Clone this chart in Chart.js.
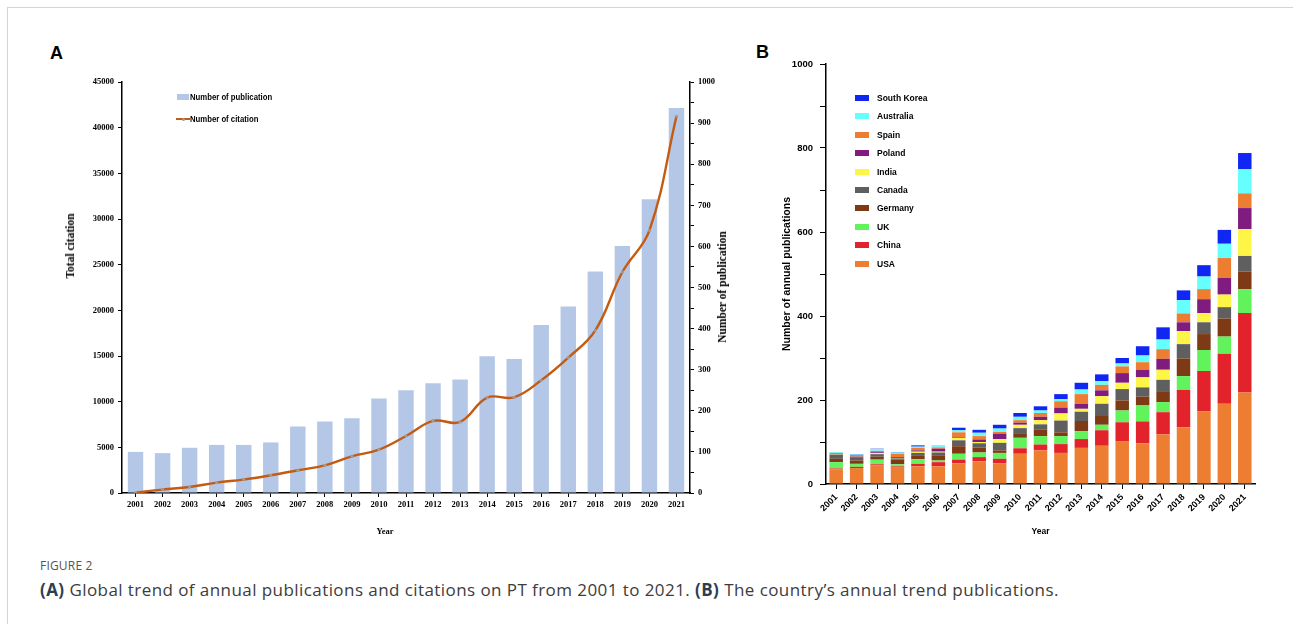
<!DOCTYPE html>
<html>
<head>
<meta charset="utf-8">
<script src="https://cdn.jsdelivr.net/npm/chart.js@4.4.1/dist/chart.umd.min.js"></script>
<style>
  html, body { margin: 0; padding: 0; background: #fff; }
  body { width: 1293px; height: 624px; position: relative; overflow: hidden; font-family: "Liberation Sans", Arial, sans-serif; }
  .frame { position: absolute; left: 7px; top: 7px; width: 1300px; height: 640px; border-top: 1px solid #d4d4d4; border-left: 1px solid #d4d4d4; }
  canvas { position: absolute; }
  .abs { position: absolute; white-space: nowrap; }
  .panel { font-family: "Liberation Sans", Arial, sans-serif; font-weight: bold; font-size: 18px; color: #000; }
  .legA { font-family: "Liberation Sans", sans-serif; font-weight: bold; font-size: 9px; color: #000; line-height: 10px; transform: scaleX(0.86); transform-origin: left center; }
  .legB { font-family: "Liberation Sans", Arial, sans-serif; font-weight: bold; font-size: 8.5px; color: #000; line-height: 10px; }
  .sw { position: absolute; }
  .ytitle { font-family: "Liberation Serif", "Times New Roman", serif; font-weight: bold; font-size: 11.5px; color: #000; transform: translate(-50%, -50%) rotate(-90deg); }
  .xtitle { font-family: "Liberation Serif", "Times New Roman", serif; font-weight: bold; font-size: 8.5px; color: #000; transform: translate(-50%, -50%); }
  .figlab { font-family: "Open Sans", sans-serif; font-size: 12px; color: #555; letter-spacing: 0.2px; }
  .cap { font-family: "Open Sans", sans-serif; font-size: 17px; letter-spacing: 0.43px; color: #3c3c3c; }
  .cap b { color: #2c3e52; }
</style>
</head>
<body>
<div class="frame"></div>
<div class="abs panel" style="left:50px; top:43px;">A</div>
<div class="abs panel" style="left:756px; top:42px;">B</div>

<canvas id="chartA" width="690" height="470" style="left:60px; top:70px;"></canvas>
<canvas id="chartB" width="540" height="520" style="left:740px; top:40px;"></canvas>

<div class="abs ytitle" style="left:70px; top:246px;">Total citation</div>
<div class="abs ytitle" style="left:722px; top:287px;">Number of publication</div>
<div class="abs xtitle" style="left:385px; top:531px;">Year</div>
<div id="legendA"></div>
<div id="legendB"></div>

<div class="abs figlab" style="left:40px; top:557px;">FIGURE 2</div>
<div class="abs cap" style="left:40px; top:578px;"><b>(A)</b> Global trend of annual publications and citations on PT from 2001 to 2021. <b>(B)</b> The country’s annual trend publications.</div>

<script>
// ---------- Panel A data ----------
const years = ["2001","2002","2003","2004","2005","2006","2007","2008","2009","2010","2011","2012","2013","2014","2015","2016","2017","2018","2019","2020","2021"];
const publications = [100, 97, 110, 117, 117, 123, 162, 174, 182, 230, 250, 267, 276, 333, 326, 409, 454, 539, 601, 715, 937];
const citations = [30, 370, 660, 1140, 1470, 1940, 2490, 3030, 4020, 4750, 6240, 7890, 7780, 10440, 10480, 12340, 14820, 17810, 24200, 28760, 41250];
const citationTicksMax = 45000;
const publicationTicksMax = 1000;

// ---------- Panel B data (stack order bottom -> top) ----------
const countries = ["USA","China","UK","Germany","Canada","India","Poland","Spain","Australia","South Korea"];
const usa       = [35, 38, 44, 39, 42, 42, 49, 54, 49, 72, 80, 74, 86, 91, 101, 97, 118, 135, 173, 191, 218];
const china     = [2, 3, 3, 3, 6, 10, 9, 10, 11, 13, 14, 21, 21, 37, 46, 52, 53, 89, 96, 119, 189];
const uk        = [15, 7, 11, 5, 11, 4, 14, 11, 14, 25, 20, 19, 19, 13, 28, 38, 24, 33, 50, 41, 57];
const germany   = [8, 8, 7, 11, 8, 11, 18, 12, 6, 11, 15, 9, 24, 23, 24, 21, 26, 42, 38, 43, 42];
const canada    = [10, 8, 6, 3, 7, 8, 14, 10, 18, 12, 13, 28, 22, 27, 27, 22, 27, 34, 28, 27, 37];
const india     = [1, 1, 3, 1, 3, 2, 6, 3, 9, 8, 10, 17, 7, 18, 15, 24, 24, 31, 22, 30, 64];
const poland    = [1, 2, 2, 2, 3, 7, 2, 6, 13, 5, 8, 14, 12, 14, 23, 18, 26, 21, 33, 40, 50];
const spain     = [2, 2, 3, 8, 6, 3, 11, 8, 4, 6, 9, 15, 23, 13, 16, 18, 23, 21, 24, 47, 35];
const australia = [2, 1, 4, 3, 3, 3, 5, 8, 8, 8, 6, 5, 11, 9, 7, 16, 23, 32, 30, 34, 58];
const southKorea= [0, 1, 1, 1, 3, 1, 6, 7, 9, 9, 10, 12, 16, 16, 13, 22, 29, 23, 27, 33, 38];
const countryColors = ["#ED7D31","#E3232B","#62F25C","#7E3A14","#5F5F5F","#FEF646","#801B80","#ED7D31","#66FFFF","#1026F2"];
const countrySeries = [usa, china, uk, germany, canada, india, poland, spain, australia, southKorea];

// ---------- Chart A ----------
const serifFont = { family: "'Liberation Serif', 'Times New Roman', serif", weight: 'bold', size: 8.5 };
new Chart(document.getElementById('chartA'), {
  type: 'bar',
  data: {
    labels: years,
    datasets: [
      {
        type: 'line', label: 'Number of citation', data: citations, yAxisID: 'y',
        borderColor: '#C55A11', borderWidth: 2.4, tension: 0.4,
        pointRadius: 1.6, pointBackgroundColor: '#9c9c9c', pointBorderWidth: 0, order: 0
      },
      {
        type: 'bar', label: 'Number of publication', data: publications, yAxisID: 'y1',
        backgroundColor: '#B4C7E7', barPercentage: 0.57, categoryPercentage: 1.0, order: 1
      }
    ]
  },
  options: {
    responsive: false, animation: false, devicePixelRatio: 1,
    layout: { padding: { top: 12, left: 0, right: 0, bottom: 0 } },
    plugins: { legend: { display: false }, tooltip: { enabled: false } },
    scales: {
      x: {
        grid: { display: true, drawOnChartArea: false, offset: false, drawTicks: true, tickLength: 4, color: '#000', lineWidth: 1 },
        border: { color: '#000', width: 1.5 },
        ticks: { font: serifFont, color: '#000', maxRotation: 0, minRotation: 0, padding: 3 },
        afterFit: s => { s.height = 47; }
      },
      y: {
        position: 'left', min: 0, max: citationTicksMax,
        grid: { drawOnChartArea: false, tickLength: 4, color: '#000' },
        border: { color: '#000', width: 1.5 },
        ticks: { stepSize: 5000, font: serifFont, color: '#000', padding: 4, callback: v => String(v) },
        afterFit: s => { s.width = 62; }
      },
      y1: {
        position: 'right', min: 0, max: publicationTicksMax,
        grid: { drawOnChartArea: false, tickLength: 4, color: '#000' },
        border: { color: '#000', width: 1.5 },
        ticks: { stepSize: 50, font: serifFont, color: '#000', padding: 4, callback: v => (v % 100 === 0 ? String(v) : '') },
        afterFit: s => { s.width = 60; }
      }
    }
  }
});

// ---------- Chart B ----------
const sansFont = { family: "'Liberation Sans', Arial, sans-serif", weight: 'bold', size: 9 };
new Chart(document.getElementById('chartB'), {
  type: 'bar',
  data: {
    labels: years,
    datasets: countries.map((c, i) => ({
      label: c, data: countrySeries[i], backgroundColor: countryColors[i],
      barPercentage: 0.66, categoryPercentage: 1.0, borderWidth: 0
    }))
  },
  options: {
    responsive: false, animation: false, devicePixelRatio: 1,
    layout: { padding: { top: 24, right: 25, left: 0, bottom: 0 } },
    plugins: { legend: { display: false }, tooltip: { enabled: false } },
    scales: {
      x: {
        stacked: true,
        grid: { display: true, drawOnChartArea: false, offset: false, tickLength: 5, color: '#000' },
        border: { color: '#000', width: 1.5 },
        ticks: { font: sansFont, color: '#000', maxRotation: 45, minRotation: 45, padding: 3, autoSkip: false },
        title: { display: true, text: 'Year', font: { family: "'Liberation Sans', Arial, sans-serif", weight: 'bold', size: 8.5 }, color: '#000', padding: { top: 0, bottom: 23 } },
        afterFit: s => { s.height = 76; }
      },
      y: {
        stacked: true, min: 0, max: 1000,
        grid: { drawOnChartArea: false, tickLength: 6, color: '#000' },
        border: { color: '#000', width: 1.5 },
        ticks: { stepSize: 100, font: { family: "'Liberation Sans', Arial, sans-serif", weight: 'bold', size: 9.5 }, color: '#000', padding: 7, callback: v => (v % 200 === 0 ? String(v) : '') },
        title: { display: true, text: 'Number of annual publications', font: { family: "'Liberation Sans', Arial, sans-serif", weight: 'bold', size: 10.5 }, color: '#000', padding: { top: 40.7, bottom: 0 } },
        afterFit: s => { s.width = 86; }
      }
    }
  }
});

// ---------- HTML legends ----------
(function () {
  const la = document.getElementById('legendA');
  la.innerHTML =
    '<div class="sw" style="left:177px; top:94px; width:12px; height:6px; background:#B4C7E7;"></div>' +
    '<div class="abs legA" style="left:190px; top:92px;">Number of publication</div>' +
    '<div class="sw" style="left:176px; top:118px; width:14px; height:2.4px; background:#C55A11;"></div>' +
    '<div class="sw" style="left:181.5px; top:117.5px; width:3px; height:3px; border-radius:50%; background:#9c9c9c;"></div>' +
    '<div class="abs legA" style="left:190px; top:114px;">Number of citation</div>';

  const lb = document.getElementById('legendB');
  let html = '';
  const order = countries.map((c, i) => i).reverse();
  order.forEach((idx, r) => {
    const cy = 98 + r * 18.4;
    html += '<div class="sw" style="left:855px; top:' + (cy - 3) + 'px; width:14px; height:6px; background:' + countryColors[idx] + ';"></div>';
    html += '<div class="abs legB" style="left:877px; top:' + (cy - 5) + 'px;">' + countries[idx] + '</div>';
  });
  lb.innerHTML = html;
})();
</script>
</body>
</html>
